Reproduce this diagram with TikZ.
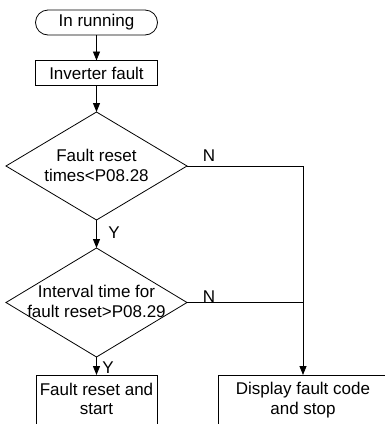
\documentclass[tikz,border=0pt]{standalone}
\usepackage{fontspec}
\setmainfont{Liberation Sans}
\usetikzlibrary{shapes.geometric,shapes.misc,arrows.meta}
\begin{document}
\begin{tikzpicture}[x=1pt,y=-1pt,
  every node/.style={font=\fontsize{17}{19.5}\selectfont, inner sep=0pt, outer sep=0pt},
  line/.style={line width=0.8pt, draw=black},
  arr/.style={line, -{Triangle[length=9pt,width=7pt]}},
  boxnode/.style={draw, line width=0.8pt, rectangle},
  pillnode/.style={draw, line width=0.8pt, rounded rectangle, minimum width=122pt, minimum height=25pt},
  dianode/.style={draw, line width=0.8pt, diamond, minimum width=181pt, minimum height=108pt},
  txt/.style={align=center},
  lab/.style={font=\fontsize{17}{19.5}\selectfont}
]
\useasboundingbox (0,0) rectangle (385,424);
\clip (0,0) rectangle (385,424);

\node[pillnode] (run) at (96.5,22.5) {In running};
\node[boxnode, minimum width=122pt, minimum height=25pt] (inv) at (96.5,73) {Inverter fault};

\node[dianode] (d1) at (96.5,166) {};
\node[txt] (d1t) at (96.5,165.5) {Fault reset\\times<P08.28};

\node[dianode, minimum height=109pt] (d2) at (96.5,302.5) {};
\node[txt] (d2t) at (96.5,301.5) {Interval time for\\fault reset>P08.29};

\node[boxnode, anchor=north, minimum width=121pt, minimum height=70pt] (rst) at (96.5,375) {};
\node[txt] (rstt) at (96.5,399) {Fault reset and\\start};

\node[boxnode, anchor=north west, minimum width=180pt, minimum height=70pt] (disp) at (218,375) {};
\node[txt] (dispt) at (303,400) {Display fault code\\and stop};

\coordinate (c1) at (303,166);
\coordinate (c2) at (303,302.5);
\coordinate (dtop) at (303,375);

\draw[arr] (run) -- (inv);
\draw[arr] (inv) -- (d1.north);
\draw[arr] (d1.south) -- (d2.north);
\draw[arr] (d2.south) -- (rst.north);
\draw[line] (d1.east) -- (c1);
\draw[arr] (c1) -- (dtop);
\draw[line] (d2.east) -- (c2);

\node[lab] (n1) at (209,156) {N};
\node[lab] (n2) at (209,297) {N};
\node[lab] (y1) at (114,233) {Y};
\node[lab] (y2) at (108,368) {Y};
\end{tikzpicture}
\end{document}
